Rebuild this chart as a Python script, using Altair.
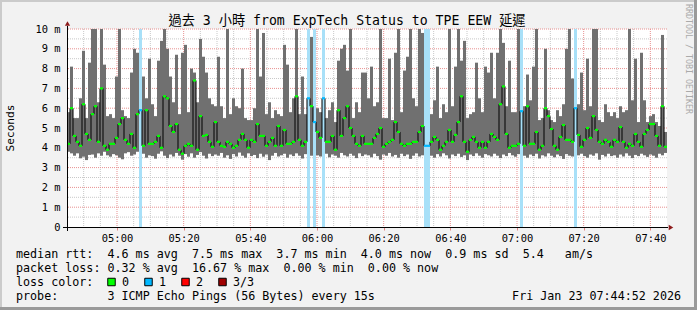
import json
import altair as alt
import pandas as pd

# ---------------- data ----------------
TITLE = "過去 3 小時 from ExpTech Status to TPE EEW 延遲"
Y_TITLE = "Seconds"
WATERMARK = "RRDTOOL / TOBI OETIKER"
TIMESTAMP = "Fri Jan 23 07:44:52 2026"

# x axis: minutes after 04:45, 3 hour window
time_labels = ["05:00", "05:20", "05:40", "06:00", "06:20", "06:40", "07:00", "07:20", "07:40"]
first_label_min = 15
label_step_min = 20
window_min = 180
step_min = 0.9          # one smoke column
y_ticks = [0, 1, 2, 3, 4, 5, 6, 7, 8, 9, 10]   # ms

smoke_max = [
    5.8, 8.1, 5.5, 5.5, 6.5, 8.9, 5.5, 8.3, 10, 10,
    6.3, 10, 8.2, 5.6, 5.7, 5.5, 7.6, 10, 5.9, 5.6,
    5.5, 7.8, 9, 8.8, 10, 7.6, 6.5, 8.5, 6.2, 5.6,
    8.4, 9.4, 10, 9, 7.6, 6.3, 8.7, 5.7, 8.8, 9.2,
    5.8, 8, 7.8, 6.3, 9.5, 8.6, 7.8, 6.5, 6.2, 6.1,
    8.6, 6.1, 5.5, 10, 5.7, 6.5, 6.1, 6.0, 8, 5.5,
    5.4, 5.4, 6.0, 10, 7.6, 9.8, 5.7, 6.3, 5.5, 5.9,
    5.7, 5.6, 9.2, 8.2, 5.8, 6.5, 10, 5.7, 7.6, 5.7,
    6.9, 9.6, 10, 6.0, 5.8, 10, 5.5, 5.9, 6.3, 5.3,
    8.4, 9, 9.2, 7.9, 10, 5.5, 6.3, 5.8, 7.8, 7.8,
    6.5, 8.1, 6.1, 6.3, 10, 5.5, 5.5, 8.5, 5.4, 8.8,
    10, 5.8, 7.9, 8.6, 10, 6.5, 6.1, 10, 9.8, 5.5,
    5.5, 5.7, 6.4, 8.1, 5.5, 6.2, 5.8, 10, 6.1, 8.1,
    10, 8.4, 9.4, 5.5, 5.7, 5.8, 8.3, 6.5, 5.8, 8.1,
    7.8, 8.8, 6.5, 8.8, 10, 9.3, 6.1, 8.4, 5.8, 5.8,
    10, 5.6, 6.1, 7.7, 6.4, 8.1, 10, 5.4, 5.5, 9,
    5.9, 5.4, 5.3, 5.9, 5.6, 6.2, 9, 10, 7.5, 6.2,
    6.2, 7.8, 5.9, 8.5, 6.1, 10, 10, 5.4, 5.3, 6.2,
    5.8, 5.6, 5.8, 5.5, 6.1, 5.8, 5.9, 10, 6.4, 8.5,
    5.3, 8.8, 6.4, 5.3, 5.6, 5.7, 5.3, 5.1, 9.7, 4.8,
]
smoke_min = [
    3.8, 3.72, 3.6, 3.72, 3.47, 3.55, 3.38, 3.64, 3.66, 3.5,
    3.72, 3.6, 3.8, 3.62, 3.55, 3.68, 3.62, 3.5, 3.42, 3.72,
    3.78, 3.6, 3.66, 3.8, 3.9, 3.7, 3.5, 3.62, 3.58, 3.45,
    3.7, 3.82, 3.6, 3.48, 3.66, 3.56, 3.74, 3.6, 3.4, 3.68,
    3.55, 3.72, 3.5, 3.64, 3.78, 3.6, 3.46, 3.7, 3.58, 3.66,
    3.6, 3.74, 3.5, 3.62, 3.44, 3.68, 3.56, 3.76, 3.6, 3.5,
    3.72, 3.58, 3.64, 3.48, 3.7, 3.55, 3.66, 3.38, 3.6, 3.74,
    3.56, 3.62, 3.7, 3.5, 3.66, 3.58, 3.72, 3.6, 3.46, 3.68,
    3.9, 3.6, 3.9, 3.62, 3.56, 3.9, 3.7, 3.52, 3.66, 3.6,
    3.5, 3.74, 3.62, 3.56, 3.7, 3.6, 3.48, 3.72, 3.58, 3.66,
    3.62, 3.52, 3.7, 3.58, 3.4, 3.66, 3.6, 3.74, 3.56, 3.64,
    3.5, 3.7, 3.58, 3.66, 3.44, 3.6, 3.72, 3.56, 3.62, 3.9,
    3.9, 3.6, 3.5, 3.68, 3.56, 3.72, 3.62, 3.46, 3.66, 3.58,
    3.7, 3.54, 3.62, 3.38, 3.66, 3.58, 3.72, 3.6, 3.5, 3.68,
    3.62, 3.56, 3.7, 3.6, 3.48, 3.66, 3.58, 3.74, 3.62, 3.55,
    3.68, 3.9, 3.6, 3.5, 3.66, 3.58, 3.7, 3.46, 3.62, 3.56,
    3.72, 3.6, 3.52, 3.66, 3.58, 3.44, 3.68, 3.6, 3.56, 3.9,
    3.62, 3.7, 3.58, 3.5, 3.66, 3.6, 3.72, 3.4, 3.64, 3.56,
    3.7, 3.58, 3.62, 3.5, 3.66, 3.56, 3.72, 3.6, 3.48, 3.64,
    3.58, 3.7, 3.62, 3.54, 3.66, 3.6, 3.5, 3.7, 3.62, 3.74,
]
median_rtt = [
    4.2, 6.0, 4.6, 4.3, 4.1, 6.2, 4.7, 4.4, 5.7, 6.1,
    4.3, 7.0, 4.1, 3.9, 4.2, 4.2, 4.5, 5.2, 5.5, 4.4,
    4.2, 4.7, 4.0, 5.7, 5.9, 4.1, 5.9, 4.2, 4.2, 4.3,
    4.6, 4.0, 6.6, 6.5, 5.1, 4.8, 5.2, 3.9, 3.7, 4.1,
    4.2, 4.1, 7.4, 3.9, 5.6, 4.6, 4.65, 4.3, 4.05, 5.3,
    4.3, 4.1, 4.05, 4.3, 4.2, 4.0, 4.1, 4.4, 4.7, 4.4,
    4.0, 4.4, 4.3, 5.2, 4.6, 4.6, 4.1, 4.3, 4.5, 4.1,
    5.1, 4.1, 4.9, 4.2, 4.2, 4.3, 6.6, 4.4, 4.1, 4.3,
    6.5, 6.1, 5.3, 4.8, 4.5, 6.5, 4.3, 4.3, 4.6, 3.9,
    5.9, 4.6, 5.5, 6.1, 5.0, 4.6, 4.2, 4.1, 4.6, 4.2,
    4.2, 4.2, 4.5, 4.7, 5.0, 4.05, 4.2, 4.3, 4.4, 5.3,
    4.8, 4.2, 4.1, 4.2, 4.2, 4.3, 4.3, 4.8, 5.1, 4.1,
    4.1, 4.3, 4.55, 4.4, 3.9, 4.1, 4.3, 4.9, 4.3, 4.65,
    5.3, 6.6, 4.3, 3.8, 4.4, 4.55, 4.3, 4.0, 4.3, 4.0,
    4.3, 4.7, 4.55, 4.4, 6.2, 7.1, 4.7, 4.0, 4.1, 4.1,
    4.2, 5.85, 4.1, 6.1, 4.2, 4.2, 4.8, 3.9, 4.1, 6.0,
    5.6, 4.95, 4.1, 3.9, 4.55, 5.15, 4.4, 4.4, 4.3, 6.0,
    4.65, 4.05, 4.4, 5.0, 4.5, 5.6, 4.9, 4.3, 4.2, 4.4,
    4.3, 4.05, 4.4, 4.3, 5.05, 4.3, 4.0, 4.2, 4.1, 4.7,
    4.3, 4.05, 4.7, 4.9, 5.2, 5.2, 4.6, 4.1, 6.1, 4.05,
]
# columns where 1 of 3 pings was lost
loss_cols = [24, 80, 82, 85, 119, 120, 151, 169]

legend_lines = [
    "median rtt:  4.6 ms avg  7.5 ms max  3.7 ms min  4.0 ms now  0.9 ms sd  5.4   am/s",
    "packet loss: 0.32 % avg  16.67 % max  0.00 % min  0.00 % now",
    "loss color:",
    "probe:       3 ICMP Echo Pings (56 Bytes) every 15s",
]
loss_labels = ["0", "1", "2", "3/3"]
loss_colors = ["#00FF00", "#00B8FF", "#FF0000", "#A00000"]

# ---------------- build table ----------------
rows = []
for c, med in enumerate(median_rtt):
    loss = 1 if c in loss_cols else 0
    rows.append(dict(
        t0=c * step_min, t1=(c + 1) * step_min,
        lo=smoke_min[c], hi=smoke_max[c], med=med,
        prev=median_rtt[c - 1] if c > 0 else med,
        loss=loss, mcolor=loss_colors[loss],
    ))
df = pd.DataFrame(rows)
band_df = df[df["loss"] > 0]

label_pos = [first_label_min + label_step_min * i for i in range(len(time_labels))]
minor_x = [m for m in range(5, window_min, 5) if m not in label_pos]
major_y = [v for v in y_ticks if v > 0]
minor_y = [v + 0.5 for v in y_ticks[:-1]]

MONO = "DejaVu Sans Mono"
NB = "\u00a0"
one = pd.DataFrame({"k": [0]})

xs = alt.Scale(domain=[0, window_min], nice=False, zero=False)
ys = alt.Scale(domain=[0, 10], nice=False, zero=False)

x_axis = alt.Axis(
    values=label_pos,
    labelExpr=f"{json.dumps(time_labels)}[(datum.value - {first_label_min}) / {label_step_min}]",
    domain=False, grid=False, ticks=True, tickSize=3, tickColor="#E08888",
    labelFont=MONO, labelFontSize=10.4, labelColor="#000000",
    labelPadding=3, labelBaseline="top", labelAlign="center",
    labelFlush=False, labelOverlap=False,
)
y_axis = alt.Axis(
    values=y_ticks,
    labelExpr=f"datum.value == 0 ? '0{NB}{NB}' : datum.value + ' m'",
    domain=False, grid=False, ticks=False, tickSize=0,
    labelFont=MONO, labelFontSize=10.4, labelColor="#000000",
    labelPadding=7, labelAlign="right", labelBaseline="middle",
    labelFlush=False, labelOverlap=False,
)


def X(f):
    return alt.X(f, type="quantitative", scale=xs, axis=x_axis, title=None)


def Y(f):
    return alt.Y(f, type="quantitative", scale=ys, axis=y_axis, title=None)


layers = []

# grid
layers.append(alt.Chart(pd.DataFrame({"t": minor_x})).mark_rule(
    color="#C8C8C8", strokeDash=[1, 1], strokeWidth=1).encode(x=X("t")))
layers.append(alt.Chart(pd.DataFrame({"v": minor_y})).mark_rule(
    color="#C8C8C8", strokeDash=[1, 1], strokeWidth=1).encode(y=Y("v")))
layers.append(alt.Chart(pd.DataFrame({"t": label_pos})).mark_rule(
    color="#E89090", strokeDash=[1, 1], strokeWidth=1).encode(x=X("t")))
layers.append(alt.Chart(pd.DataFrame({"v": major_y})).mark_rule(
    color="#E89090", strokeDash=[1, 1], strokeWidth=1).encode(y=Y("v")))

# smoke
layers.append(alt.Chart(df).mark_rect(color="#707070").encode(
    x=X("t0"), x2="t1", y=Y("lo"), y2="hi"))

# loss background
layers.append(alt.Chart(band_df).mark_rect(color="#A8E0F8").encode(
    x=X("t0"), x2="t1", y=alt.Y("z:Q", scale=ys, axis=y_axis, title=None), y2="top:Q"
).transform_calculate(z="0", top="10"))

# median: black steps + coloured markers
layers.append(alt.Chart(df).mark_rule(color="#000000", strokeWidth=1).encode(
    x=X("t0"), y=Y("prev"), y2="med"))
layers.append(alt.Chart(df).mark_rule(strokeWidth=2.2).encode(
    x=X("t0"), x2="t1", y=Y("med"), color=alt.Color("mcolor:N", scale=None)))

# axis lines and arrows
layers.append(alt.Chart(one).mark_rule(color="#000000", strokeWidth=1).encode(
    x=alt.value(-4), x2=alt.value(601), y=alt.value(198.5)))
layers.append(alt.Chart(one).mark_rule(color="#000000", strokeWidth=1).encode(
    x=alt.value(0.5), y=alt.value(-3), y2=alt.value(202)))
layers.append(alt.Chart(one).mark_point(shape="triangle-right", filled=True, size=28,
                                        color="#8E1C1C", opacity=1).encode(
    x=alt.value(604), y=alt.value(198.5)))
layers.append(alt.Chart(one).mark_point(shape="triangle-up", filled=True, size=28,
                                        color="#8E1C1C", opacity=1).encode(
    x=alt.value(0.5), y=alt.value(-5.5)))

# texts
layers.append(alt.Chart(one).mark_text(
    font=f"{MONO}, Noto Sans CJK TC", fontSize=13.2, align="center", baseline="middle",
    color="#000000").encode(x=alt.value(280), y=alt.value(-8), text=alt.value(TITLE)))
layers.append(alt.Chart(one).mark_text(
    font=MONO, fontSize=11.2, align="center", baseline="middle", angle=270,
    color="#000000").encode(x=alt.value(-56), y=alt.value(99), text=alt.value(Y_TITLE)))
layers.append(alt.Chart(one).mark_text(
    font=MONO, fontSize=8.3, align="center", baseline="middle", angle=90,
    color="#AAAAAA").encode(x=alt.value(621), y=alt.value(30), text=alt.value(WATERMARK)))

for i, line in enumerate(legend_lines):
    layers.append(alt.Chart(one).mark_text(
        font=MONO, fontSize=11.7, align="left", baseline="middle", color="#000000"
    ).encode(x=alt.value(-51), y=alt.value(225 + 14 * i), text=alt.value(line.replace(" ", NB))))

layers.append(alt.Chart(one).mark_text(
    font=MONO, fontSize=11.7, align="right", baseline="middle", color="#000000"
).encode(x=alt.value(614), y=alt.value(267), text=alt.value(TIMESTAMP)))

for i, (lab, col) in enumerate(zip(loss_labels, loss_colors)):
    layers.append(alt.Chart(one).mark_square(size=56, filled=True, color=col, opacity=1,
                                             stroke="#000000", strokeWidth=1).encode(
        x=alt.value(44.5 + 37 * i), y=alt.value(253)))
    layers.append(alt.Chart(one).mark_text(
        font=MONO, fontSize=11.7, align="left", baseline="middle", color="#000000"
    ).encode(x=alt.value(55 + 37 * i), y=alt.value(253), text=alt.value(lab)))

# frame shading
layers.append(alt.Chart(one).mark_rect(color="#CBCBCB").encode(
    x=alt.value(-67), x2=alt.value(630), y=alt.value(-29), y2=alt.value(-27)))
layers.append(alt.Chart(one).mark_rect(color="#CBCBCB").encode(
    x=alt.value(-67), x2=alt.value(-65), y=alt.value(-29), y2=alt.value(281)))
layers.append(alt.Chart(one).mark_rect(color="#9A9A9A").encode(
    x=alt.value(627), x2=alt.value(630), y=alt.value(-29), y2=alt.value(281)))
layers.append(alt.Chart(one).mark_rect(color="#9A9A9A").encode(
    x=alt.value(-67), x2=alt.value(630), y=alt.value(278), y2=alt.value(281)))

chart = alt.layer(*layers).properties(
    width=600, height=198,
    padding={"left": 67, "top": 29, "right": 30, "bottom": 83},
    autosize=alt.AutoSizeParams(type="none"),
    background="#F2F2F2",
).configure_view(fill="#FFFFFF", strokeWidth=0)

chart.save("out.html", embed_options={"renderer": "svg", "actions": False})
